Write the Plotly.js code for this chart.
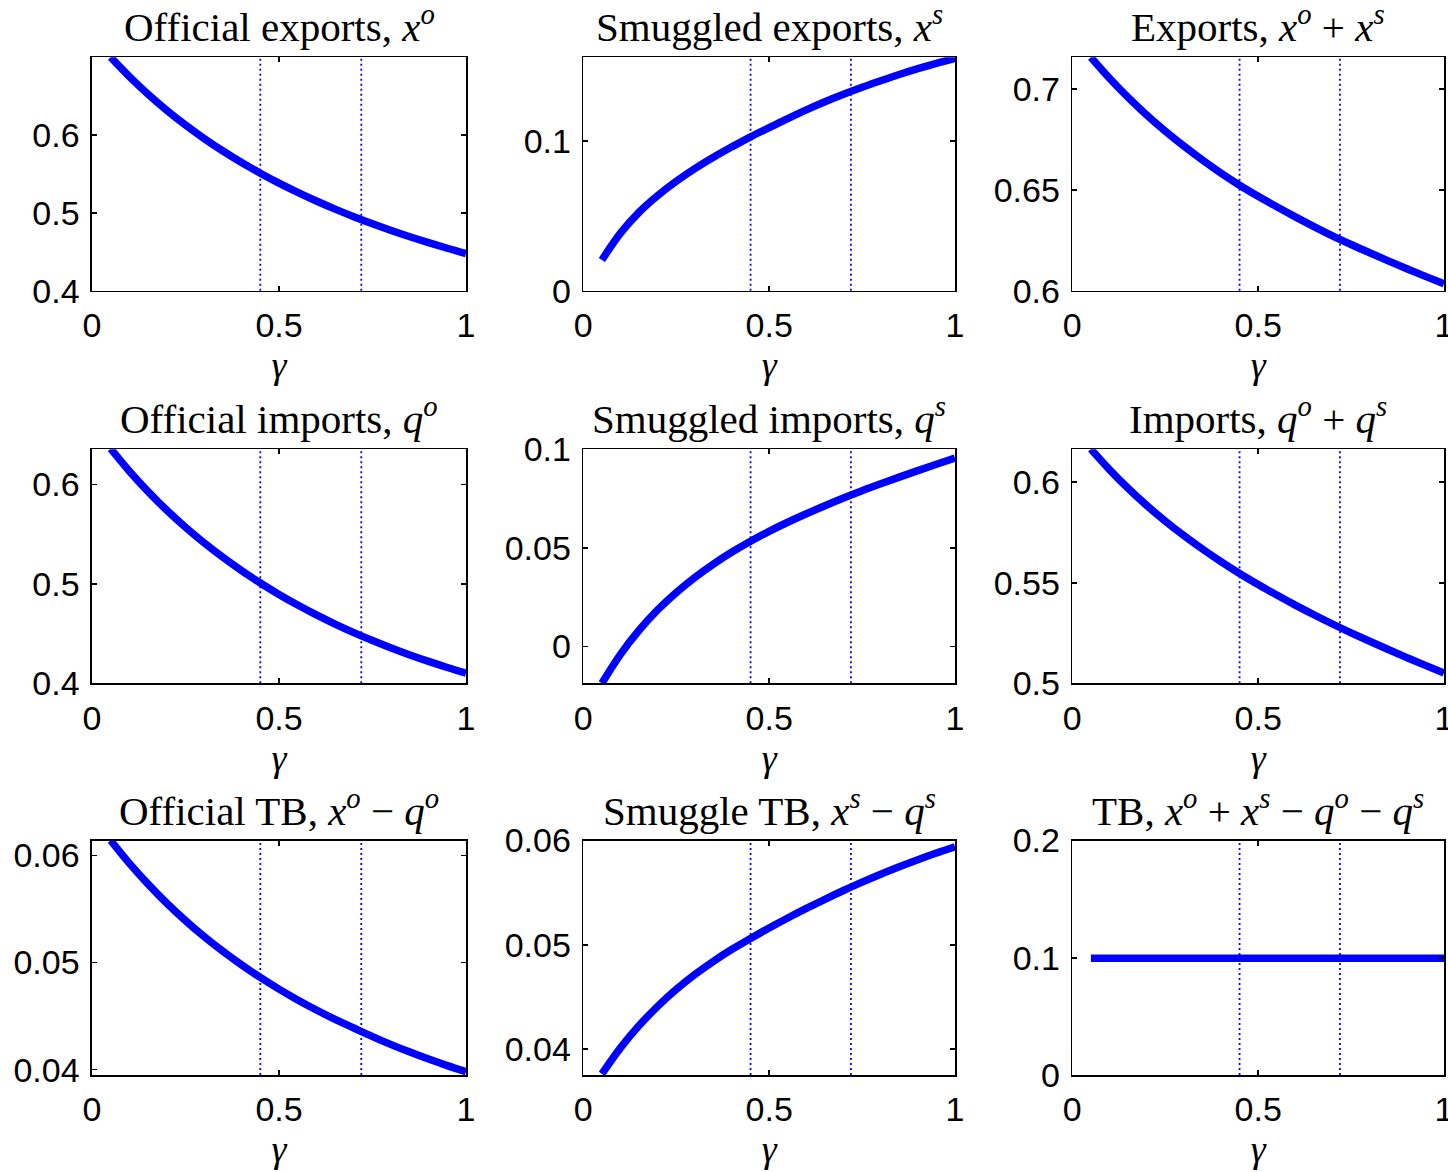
<!DOCTYPE html>
<html><head><meta charset="utf-8">
<script src="https://cdn.plot.ly/plotly-3.0.1.min.js"></script>
<style>html,body{margin:0;padding:0;background:#fff}</style>
</head><body><div id="chart" style="width:1448px;height:1172px"></div>
<script>
// ---- data ----
const gamma = [0.05,0.10,0.15,0.20,0.25,0.30,0.35,0.40,0.45,0.50,0.55,0.60,0.65,0.70,0.75,0.80,0.85,0.90,0.95,1.00];
const cutoffs = [0.45, 0.72];

const officialExports = [0.700,0.6751,0.6525,0.6318,0.6129,0.5955,0.5795,0.5647,0.5510,0.5382,0.5263,0.5152,0.5048,0.4951,0.4860,0.4774,0.4693,0.4617,0.4545,0.4477];
const smuggledExports = [0.0205,0.0385,0.0525,0.0636,0.0732,0.0817,0.0893,0.0963,0.1030,0.1091,0.1152,0.1210,0.1264,0.1314,0.1361,0.1405,0.1447,0.1486,0.1522,0.1555];
const totalExports = [0.7157,0.7053,0.6958,0.6871,0.6791,0.6717,0.6648,0.6583,0.6523,0.6468,0.6416,0.6366,0.6318,0.6272,0.6229,0.6188,0.6148,0.6109,0.6071,0.6034];

const officialImports = [0.636,0.6134,0.5929,0.5741,0.5570,0.5412,0.5267,0.5133,0.5009,0.4894,0.4787,0.4688,0.4596,0.4510,0.4430,0.4355,0.4285,0.4220,0.4159,0.4102];
const smuggledImports = [-0.0187,-0.0040,0.0082,0.0185,0.0273,0.0350,0.0418,0.0479,0.0534,0.0584,0.0630,0.0673,0.0714,0.0753,0.0790,0.0825,0.0859,0.0892,0.0924,0.0955];
const totalImports = [0.6165,0.6063,0.5970,0.5885,0.5807,0.5735,0.5668,0.5605,0.5546,0.5491,0.5439,0.5389,0.5341,0.5295,0.5251,0.5209,0.5168,0.5128,0.5089,0.5051];

const officialTB = [0.0614,0.05926,0.05732,0.05554,0.05392,0.05242,0.05105,0.04978,0.04861,0.04752,0.04651,0.04557,0.04470,0.04389,0.04309,0.04234,0.04164,0.04099,0.04038,0.03981];
const smuggleTB = [0.0376,0.0401,0.04224,0.04409,0.04571,0.04714,0.04841,0.04956,0.0506,0.0516,0.05256,0.05348,0.05436,0.0552,0.0560,0.05676,0.05748,0.05816,0.0588,0.0594];
const totalTB = [0.0995,0.0995,0.0995,0.0995,0.0995,0.0995,0.0995,0.0995,0.0995,0.0995,0.0995,0.0995,0.0995,0.0995,0.0995,0.0995,0.0995,0.0995,0.0995,0.0995];

const panelTitles = [
  'Official exports, <i>x</i><sup><i>o</i></sup>',
  'Smuggled exports, <i>x</i><sup><i>s</i></sup>',
  'Exports, <i>x</i><sup><i>o</i></sup> + <i>x</i><sup><i>s</i></sup>',
  'Official imports, <i>q</i><sup><i>o</i></sup>',
  'Smuggled imports, <i>q</i><sup><i>s</i></sup>',
  'Imports, <i>q</i><sup><i>o</i></sup> + <i>q</i><sup><i>s</i></sup>',
  'Official TB, <i>x</i><sup><i>o</i></sup> \u2212 <i>q</i><sup><i>o</i></sup>',
  'Smuggle TB, <i>x</i><sup><i>s</i></sup> \u2212 <i>q</i><sup><i>s</i></sup>',
  'TB, <i>x</i><sup><i>o</i></sup> + <i>x</i><sup><i>s</i></sup> \u2212 <i>q</i><sup><i>o</i></sup> \u2212 <i>q</i><sup><i>s</i></sup>'
];
const panelSeries = [officialExports, smuggledExports, totalExports,
                     officialImports, smuggledImports, totalImports,
                     officialTB, smuggleTB, totalTB];

const xTickVals = [0, 0.5, 1];
const xTickText = ['0', '0.5', '1'];
const yTickVals = [
  [0.4,0.5,0.6],[0,0.1],[0.6,0.65,0.7],
  [0.4,0.5,0.6],[0,0.05,0.1],[0.5,0.55,0.6],
  [0.04,0.05,0.06],[0.04,0.05,0.06],[0,0.1,0.2]
];
const yTickText = [
  ['0.4','0.5','0.6'],['0','0.1'],['0.6','0.65','0.7'],
  ['0.4','0.5','0.6'],['0','0.05','0.1'],['0.5','0.55','0.6'],
  ['0.04','0.05','0.06'],['0.04','0.05','0.06'],['0','0.1','0.2']
];
const yRanges = [
  [0.4,0.6999],[0,0.1562],[0.6,0.7157],
  [0.4,0.6354],[-0.0187,0.1],[0.5,0.6164],
  [0.0395,0.0614],[0.0375,0.0600],[0,0.2]
];

// ---- layout geometry (pixels) ----
const W = 1448, H = 1172;
const colPx = [[92,466],[583.3,955],[1072.3,1444]];
const rowPx = [[57.3,290.7],[449.3,683.3],[840.5,1075]];

const tickFont = {family:'Liberation Sans, Arial, Helvetica, sans-serif', size:34, color:'#000'};
const serif = 'Liberation Serif, Times New Roman, serif';

const traces = [];
const shapes = [];
const annotations = [];
const layout = {
  width: W, height: H,
  margin: {l:0, r:0, t:0, b:0},
  paper_bgcolor: '#fff', plot_bgcolor: '#fff',
  showlegend: false,
  shapes: shapes, annotations: annotations
};

for (let i = 0; i < 9; i++) {
  const r = Math.floor(i / 3), c = i % 3;
  const n = i + 1;
  const xk = 'xaxis' + (n === 1 ? '' : n);
  const yk = 'yaxis' + (n === 1 ? '' : n);
  const xr = 'x' + (n === 1 ? '' : n);
  const yr = 'y' + (n === 1 ? '' : n);
  const xd = [colPx[c][0] / W, colPx[c][1] / W];
  const yd = [1 - rowPx[r][1] / H, 1 - rowPx[r][0] / H];
  const common = {
    showline: true, linecolor: '#000', linewidth: 1.6, mirror: 'ticks',
    ticks: 'inside', ticklen: 5, tickwidth: 1.6, tickcolor: '#000',
    showgrid: false, zeroline: false, tickfont: tickFont, automargin: false,
    tickmode: 'array', ticklabeloverflow: 'allow'
  };
  layout[xk] = Object.assign({}, common, {
    domain: xd, anchor: yr, range: [0, 1],
    tickvals: xTickVals, ticktext: xTickText, ticklabelstandoff: 4,
    title: {text: '<i>\u03b3</i>', font: {family: serif, size: 38, color:'#000'}, standoff: 8}
  });
  layout[yk] = Object.assign({}, common, {
    domain: yd, anchor: xr, range: yRanges[i],
    tickvals: yTickVals[i], ticktext: yTickText[i], ticklabelstandoff: 4
  });
  traces.push({
    x: gamma, y: panelSeries[i], xaxis: xr, yaxis: yr,
    type: 'scatter', mode: 'lines',
    line: {color: '#0000ff', width: 7.5, shape: 'spline', smoothing: 1},
    hoverinfo: 'skip'
  });
  cutoffs.forEach(g => {
    shapes.push({
      type: 'line', xref: xr, yref: yr + ' domain', x0: g, x1: g, y0: 0, y1: 1,
      line: {color: '#0000ff', width: 1.8, dash: '2px,3px'}, layer: 'below'
    });
  });
  annotations.push({
    text: panelTitles[i], xref: 'paper', yref: 'paper',
    x: (xd[0] + xd[1]) / 2, y: yd[1], xanchor: 'center', yanchor: 'bottom',
    yshift: 5, showarrow: false,
    font: {family: serif, size: 41, color: '#000'}
  });
}

Plotly.newPlot('chart', traces, layout, {staticPlot: true, displayModeBar: false});
</script>
</body></html>
